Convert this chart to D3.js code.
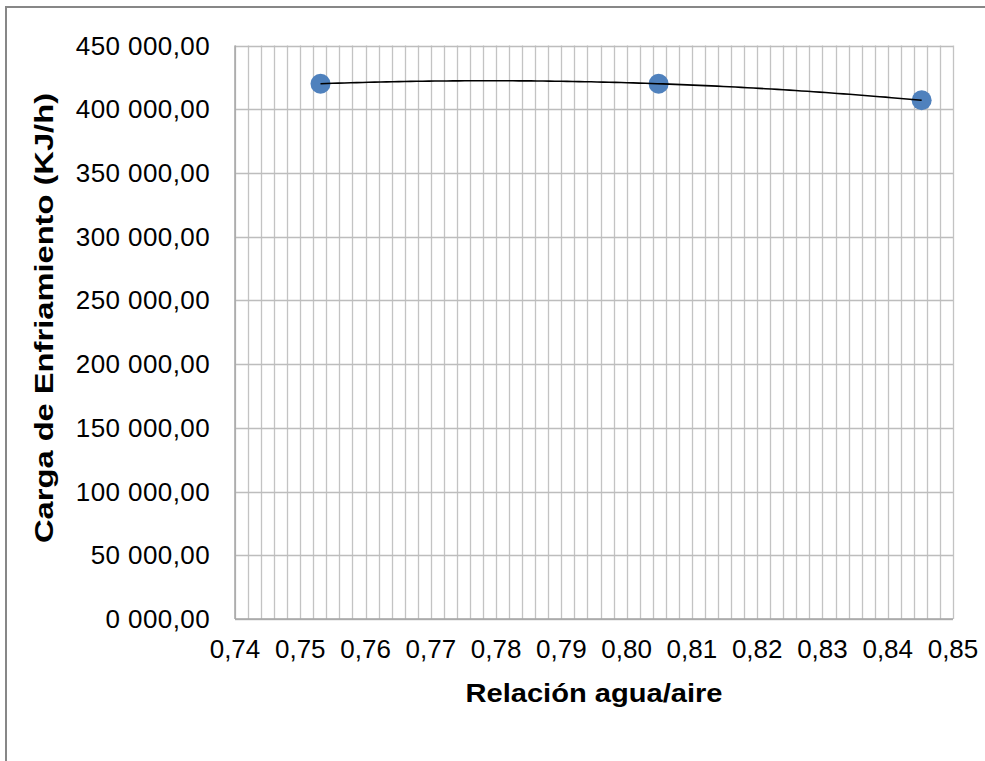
<!DOCTYPE html>
<html>
<head>
<meta charset="utf-8">
<script src="https://cdn.jsdelivr.net/npm/d3@7"></script>
<style>
  body { margin: 0; background: #fff; }
  text { font-family: "Liberation Sans", Arial, sans-serif; fill: #000; }
</style>
</head>
<body>
<svg id="chart" width="985" height="761"></svg>
<script>
// data
var ratio = [0.7531, 0.8049, 0.8452]
var load = [420000, 420000, 407000]

var xTicks = [0.74, 0.75, 0.76, 0.77, 0.78, 0.79, 0.80, 0.81, 0.82, 0.83, 0.84, 0.85]
var xTickLabels = ['0,74', '0,75', '0,76', '0,77', '0,78', '0,79', '0,80', '0,81', '0,82', '0,83', '0,84', '0,85']
var yTicks = [0, 50000, 100000, 150000, 200000, 250000, 300000, 350000, 400000, 450000]
var yTickLabels = ['0 000,00', '50 000,00', '100 000,00', '150 000,00', '200 000,00',
  '250 000,00', '300 000,00', '350 000,00', '400 000,00', '450 000,00']
var xMinorStep = 0.002

var xTitle = 'Relación agua/aire'
var yTitle = 'Carga de Enfriamiento (KJ/h)'

var svg = d3.select('#chart')

// outer frame (runs off right and bottom of the picture)
svg.append('rect')
  .attr('x', 6).attr('y', 7).attr('width', 1100).attr('height', 900)
  .attr('fill', 'none').attr('stroke', '#878787').attr('stroke-width', 2)

var x = d3.scaleLinear().domain([0.74, 0.85]).range([235, 953])
var y = d3.scaleLinear().domain([0, 450000]).range([619, 45.5])

var grid = svg.append('g')
var minor = d3.range(Math.round((0.85 - 0.74) / xMinorStep) + 1).map(function(i){ return 0.74 + i * xMinorStep })

grid.selectAll('line.vx')
  .data(minor)
  .enter().append('line').attr('class', 'vx')
  .attr('x1', function(d){ return Math.round(x(d)) + 0.5 })
  .attr('x2', function(d){ return Math.round(x(d)) + 0.5 })
  .attr('y1', y(450000)).attr('y2', y(0))
  .attr('stroke', '#c3c3c3').attr('stroke-width', 1.3)

grid.selectAll('line.hy')
  .data(yTicks)
  .enter().append('line').attr('class', 'hy')
  .attr('x1', x(0.74)).attr('x2', x(0.85))
  .attr('y1', function(d){ return Math.round(y(d)) + 0.5 })
  .attr('y2', function(d){ return Math.round(y(d)) + 0.5 })
  .attr('stroke', '#bdbdbd').attr('stroke-width', 1.3)

// axis lines
svg.append('line')
  .attr('x1', x(0.74)).attr('x2', x(0.74)).attr('y1', y(450000)).attr('y2', y(0))
  .attr('stroke', '#a6a6a6').attr('stroke-width', 1.5)
svg.append('line')
  .attr('x1', x(0.74)).attr('x2', x(0.85)).attr('y1', y(0)).attr('y2', y(0))
  .attr('stroke', '#a6a6a6').attr('stroke-width', 1.5)

// tick labels
svg.append('g').selectAll('text')
  .data(xTicks)
  .enter().append('text')
  .attr('x', function(d){ return x(d) })
  .attr('y', 658)
  .attr('text-anchor', 'middle')
  .style('font-size', '26px')
  .text(function(d, i){ return xTickLabels[i] })

svg.append('g').selectAll('text')
  .data(yTicks)
  .enter().append('text')
  .attr('x', 210)
  .attr('y', function(d){ return y(d) })
  .attr('dy', '0.35em')
  .attr('text-anchor', 'end')
  .style('font-size', '26px')
  .style('letter-spacing', '0.4px')
  .text(function(d, i){ return yTickLabels[i] })

// axis titles (reference glyphs are a bit wider than Arial, so stretch to its length)
svg.append('text')
  .attr('x', 594).attr('y', 702)
  .attr('text-anchor', 'middle')
  .attr('textLength', 257).attr('lengthAdjust', 'spacingAndGlyphs')
  .style('font-size', '26px').style('font-weight', 'bold')
  .text(xTitle)

svg.append('text')
  .attr('transform', 'translate(53,318) rotate(-90)')
  .attr('text-anchor', 'middle')
  .attr('textLength', 450).attr('lengthAdjust', 'spacingAndGlyphs')
  .style('font-size', '26px').style('font-weight', 'bold')
  .text(yTitle)

// polynomial (order 2) trendline through the points, like the spreadsheet one
function quad(v){
  var s = 0
  for (var i = 0; i < 3; i++){
    var t = load[i]
    for (var j = 0; j < 3; j++){
      if (j != i) t *= (v - ratio[j]) / (ratio[i] - ratio[j])
    }
    s += t
  }
  return s
}
var trend = d3.range(0, 101).map(function(k){
  var v = ratio[0] + (ratio[2] - ratio[0]) * k / 100
  return [v, quad(v)]
})

svg.append('g').selectAll('circle')
  .data(ratio)
  .enter().append('circle')
  .attr('cx', function(d){ return x(d) })
  .attr('cy', function(d, i){ return y(load[i]) })
  .attr('r', 10)
  .attr('fill', '#4f81bd')

// line sits over the markers in the reference
svg.append('path')
  .datum(trend)
  .attr('fill', 'none').attr('stroke', '#000').attr('stroke-width', 1.6)
  .attr('d', d3.line().x(function(d){ return x(d[0]) }).y(function(d){ return y(d[1]) }))
</script>
</body>
</html>
